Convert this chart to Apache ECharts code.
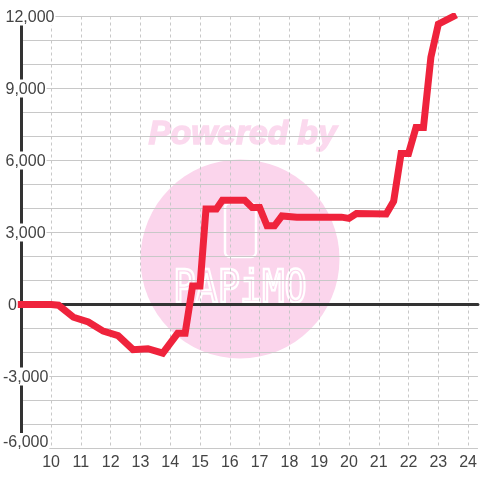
<!DOCTYPE html>
<html><head><meta charset="utf-8">
<style>html,body{margin:0;padding:0;background:#fff}#c{width:480px;height:480px}</style>
<script src="https://cdn.jsdelivr.net/npm/echarts@6/dist/echarts.min.js"></script>
</head><body><div id="c"></div>
<script>
const hours = [9,10,10.25,10.75,11.25,11.75,12.25,12.75,13.25,13.75,14.25,14.5,14.75,15,15.2,15.55,15.75,16.5,16.75,17,17.25,17.5,17.75,18.25,19.75,20,20.25,21.25,21.5,21.75,22,22.25,22.5,22.75,23,23.5];
const profit = [0,0,-30,-530,-730,-1110,-1300,-1880,-1840,-2030,-1200,-1200,770,770,3980,3980,4340,4340,4040,4040,3280,3280,3690,3640,3640,3590,3790,3770,4300,6290,6290,7370,7370,10300,11680,12000];
const yMin=-6000, yMax=12000, xMin=9, xMax=24.33;
const fmt = v => { const s = Math.abs(v).toLocaleString('en-US'); return (v<0?'-':'')+s; };
const chart = echarts.init(document.getElementById('c'),null,{renderer:'canvas'});
const textC='#444444', gridC='#c8c8c8', axisC='#333333';
const lab = {height:16,lineHeight:16,fontSize:16,color:textC,fontFamily:'Liberation Sans'};
chart.setOption({
  animation:false,
  backgroundColor:'#ffffff',
  grid:{left:20.5,right:0,top:16.5,bottom:31.5,containLabel:false},
  xAxis:[{
    type:'value',min:xMin,max:xMax,interval:1,position:'bottom',
    axisLine:{show:false},axisTick:{show:false},
    axisLabel:{color:textC,fontFamily:'Liberation Sans',fontSize:16,margin:6,showMinLabel:false,showMaxLabel:false},
    splitLine:{show:true,showMaxLine:false,lineStyle:{color:gridC,width:1,type:[3,3]}}
  },{
    type:'value',min:xMin,max:xMax,interval:1,
    axisLine:{show:true,onZero:true,onZeroAxisIndex:0,lineStyle:{color:axisC,width:3}},
    axisTick:{show:false},axisLabel:{show:false},splitLine:{show:false}
  }],
  yAxis:{
    type:'value',min:yMin,max:yMax,interval:1000,
    axisLine:{show:true,onZero:false,lineStyle:{color:axisC,width:3}},
    axisTick:{show:false},
    splitLine:{show:true,lineStyle:{color:gridC,width:1}},
    axisLabel:{
      color:textC,align:'left',margin:18.3,fontFamily:'Liberation Sans',fontSize:16,
      showMinLabel:true,showMaxLabel:true,
      formatter:v=>{
        if(v%3000!==0) return '';
        const key = v===0?'z':(v===yMin?'b':(v<0?'n':'p'));
        return '{'+key+'|'+fmt(v)+'}';
      },
      rich:{
        p:Object.assign({padding:[2,1,0,2.5],backgroundColor:'#fff'},lab),
        n:Object.assign({padding:[2,1,0,0],backgroundColor:'#fff'},lab),
        b:Object.assign({padding:[2,1,13,0],backgroundColor:'#fff'},lab),
        z:Object.assign({padding:[2,1,0,5]},lab)
      }
    }
  },
  graphic:{elements:[
    {type:'circle',z:-10,silent:true,shape:{cx:240,cy:259,r:99.5},style:{fill:'#fbd5ec'}},
    {type:'text',z:-10,silent:true,style:{x:242.5,y:135,text:'Powered by',align:'center',verticalAlign:'middle',font:'italic bold 33.5px "Liberation Sans"',fill:'#fbd9ee',stroke:'#fbd9ee',lineWidth:1.5}},
    {type:'rect',z:-9,silent:true,shape:{x:225,y:203,width:31,height:54,r:5},style:{fill:'none',stroke:'#fff',lineWidth:2.5}},
    {type:'text',z:-9,silent:true,x:240,y:290,scaleX:0.82,style:{x:0,y:0,text:'PAPiMO',align:'center',verticalAlign:'middle',font:'45px "DejaVu Sans Mono"',fill:'none',stroke:'#fff',lineWidth:2.5}}
  ]},
  series:[{
    type:'line',xAxisIndex:0,data:hours.map((h,i)=>[h,profit[i]]),symbol:'none',showSymbol:false,smooth:false,z:5,
    lineStyle:{color:'#ef233c',width:7,cap:'square',join:'miter'}
  }]
});
</script></body></html>
